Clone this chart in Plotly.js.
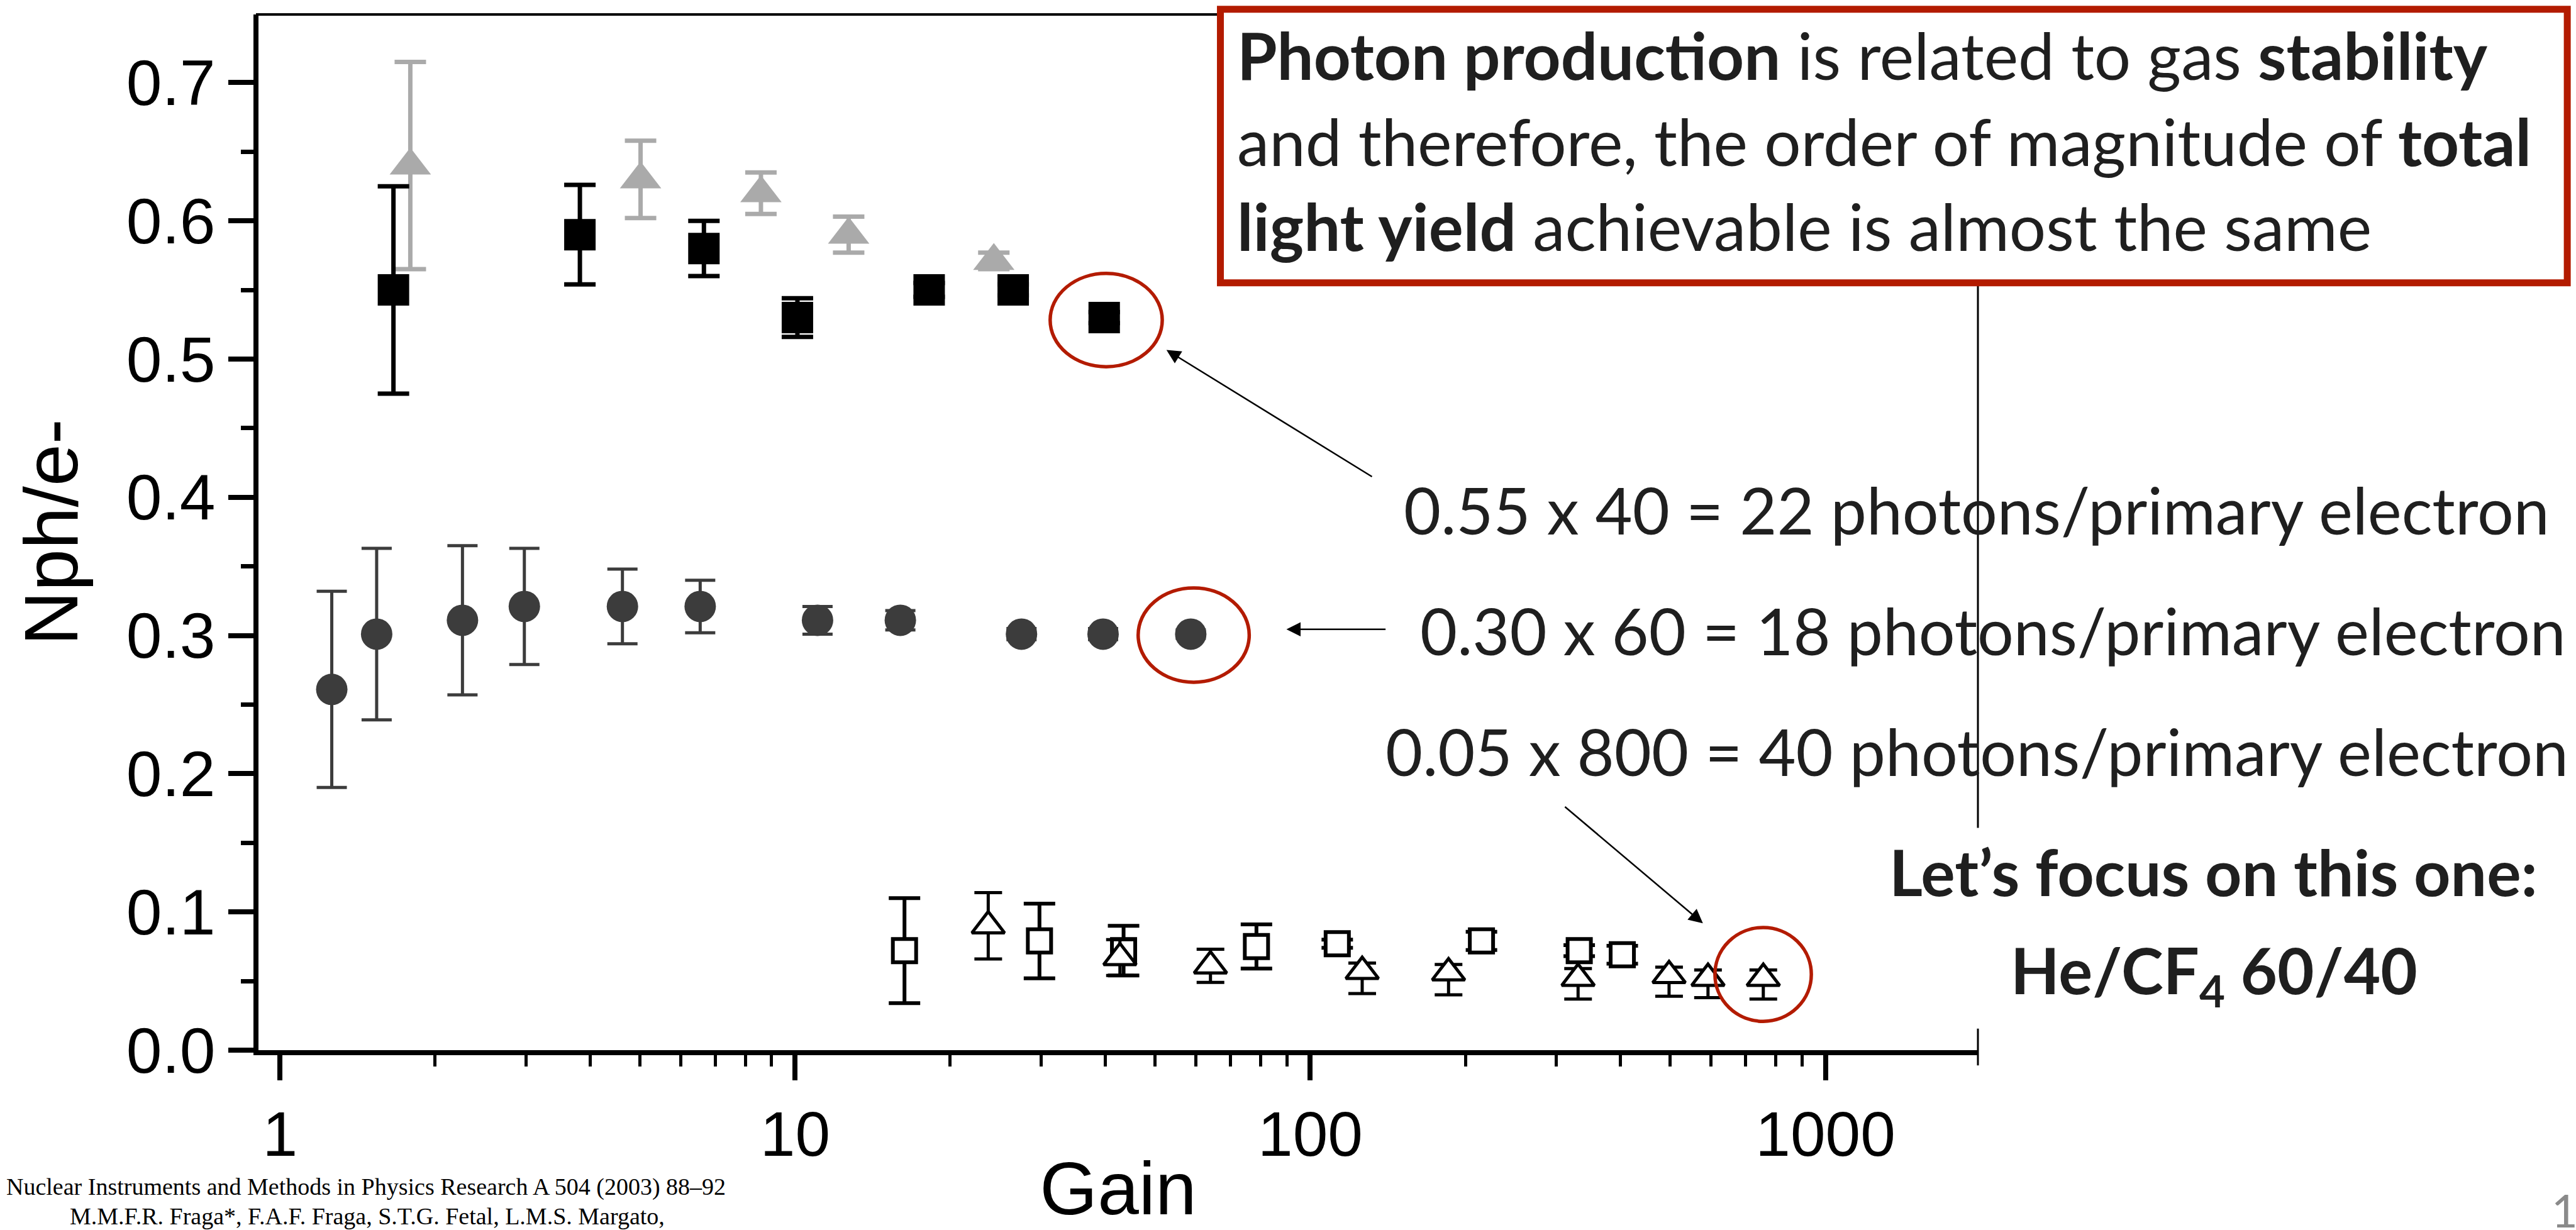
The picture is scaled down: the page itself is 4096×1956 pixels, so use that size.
<!DOCTYPE html>
<html>
<head>
<meta charset="utf-8">
<script src="https://cdn.plot.ly/plotly-3.0.1.min.js"></script>
<style>
html,body{margin:0;padding:0;background:#ffffff;}
#chart{width:4096px;height:1956px;}
</style>
</head>
<body>
<div id="chart"></div>
<script>
// ---------------- data ----------------
// filled black squares
const gainSqFilled = [1.66, 3.82, 6.65, 10.1, 18.2, 26.5, 39.8];
const nphSqFilled  = [0.550, 0.590, 0.580, 0.530, 0.550, 0.550, 0.530];
const errSqFilled  = [0.075, 0.036, 0.020, 0.014, 0.005, 0.004, 0.004];

// filled grey triangles
const gainTriGrey = [1.79, 5.01, 8.58, 12.7, 24.3];
const nphTriGrey  = [0.640, 0.630, 0.620, 0.590, 0.571];
const errTriGrey  = [0.075, 0.028, 0.015, 0.013, 0.006];

// filled dark circles
const gainCircle = [1.26, 1.54, 2.26, 2.98, 4.62, 6.54, 11.05, 16.0, 27.5, 39.6, 58.6];
const nphCircle  = [0.261, 0.301, 0.311, 0.321, 0.321, 0.321, 0.311, 0.311, 0.301, 0.301, 0.301];
const errCircle  = [0.071, 0.062, 0.054, 0.042, 0.027, 0.019, 0.010, 0.007, 0.004, 0.004, 0.003];

// open squares
const gainSqOpen = [16.3, 29.8, 43.4, 78.6, 112.8, 214.9, 332.7, 403.3];
const nphSqOpen  = [0.072, 0.079, 0.072, 0.075, 0.077, 0.079, 0.072, 0.069];
const errSqOpen  = [0.038, 0.027, 0.018, 0.016, 0.003, 0.0066, 0.004, 0.0065];

// open triangles
const gainTriOpen     = [23.7, 42.7, 64.0, 126.1, 185.5, 331, 497.1, 591.6, 757.5];
const nphTriOpen      = [0.090, 0.067, 0.061, 0.057, 0.056, 0.052, 0.054, 0.052, 0.052];
const errTriOpenPlus  = [0.024, 0.013, 0.012, 0.006, 0.006, 0.007, 0.006, 0.006, 0.006];
const errTriOpenMinus = [0.024, 0.013, 0.012, 0.016, 0.016, 0.015, 0.015, 0.014, 0.015];

// axis texts
const xTitle = 'Gain';
const yTitle = 'Nph/e-';

// ---------------- geometry helpers (reference px -> paper) ----------------
const FIG_W = 4096, FIG_H = 1956;
const S = FIG_W / 4916;
const PL = 410.6, PR = 3145.3, PT = 23.3, PB = 1669.7;
const px = xr => (xr * S - PL) / (PR - PL);
const py = yr => (PB - yr * S) / (PB - PT);
const pyo = yo => (PB - yo) / (PB - PT);

const TXT = '#1f1f1f';
const RED = '#b31b00';
const SANS = 'Lato, "Noto Sans", sans-serif';
const AX_FONT = '"Liberation Sans", Arial, sans-serif';
const SERIF = '"Liberation Serif", "Times New Roman", serif';

// ---------------- traces ----------------
const traces = [
  {
    type: 'scatter', mode: 'markers', name: 'grey triangles',
    x: gainTriGrey, y: nphTriGrey,
    error_y: {type: 'data', array: errTriGrey, visible: true, color: '#aaaaaa', thickness: 7, width: 25},
    marker: {symbol: 'triangle-up', size: 57, color: '#aaaaaa', line: {width: 0}},
    cliponaxis: false
  },
  {
    type: 'scatter', mode: 'markers', name: 'black squares',
    x: gainSqFilled, y: nphSqFilled,
    error_y: {type: 'data', array: errSqFilled, visible: true, color: '#000000', thickness: 7, width: 25},
    marker: {symbol: 'square', size: 50, color: '#000000', line: {width: 0}},
    cliponaxis: false
  },
  {
    type: 'scatter', mode: 'markers', name: 'circles',
    x: gainCircle, y: nphCircle,
    error_y: {type: 'data', array: errCircle, visible: true, color: '#3c3c3c', thickness: 5, width: 24},
    marker: {symbol: 'circle', size: 50, color: '#3c3c3c', line: {width: 0}},
    cliponaxis: false
  },
  {
    type: 'scatter', mode: 'markers', name: 'open squares',
    x: gainSqOpen, y: nphSqOpen,
    error_y: {type: 'data', array: errSqOpen, visible: true, color: '#000000', thickness: 6, width: 25},
    marker: {symbol: 'square', size: 37, color: '#ffffff', line: {width: 6, color: '#000000'}},
    cliponaxis: false
  },
  {
    type: 'scatter', mode: 'markers', name: 'open triangles',
    x: gainTriOpen, y: nphTriOpen,
    error_y: {type: 'data', symmetric: false, array: errTriOpenPlus, arrayminus: errTriOpenMinus,
              visible: true, color: '#000000', thickness: 5, width: 22},
    marker: {symbol: 'triangle-up', size: 45, color: '#ffffff', line: {width: 5, color: '#000000'}},
    cliponaxis: false
  }
];

// ---------------- shapes ----------------
const shapes = [
  // top frame line
  {type: 'line', xref: 'paper', yref: 'paper', x0: px(488), x1: 1, y0: 1, y1: 1,
   line: {color: '#000000', width: 4}, layer: 'above'},
  // right frame line
  {type: 'line', xref: 'paper', yref: 'paper', x0: 1, x1: 1, y0: 1, y1: py(2033),
   line: {color: '#000000', width: 3}, layer: 'above'},
  // white gap behind "Let's focus" text
  {type: 'rect', xref: 'paper', yref: 'paper', x0: px(3755), x1: px(3795), y0: py(1580), y1: py(1963),
   line: {width: 0}, fillcolor: '#ffffff', layer: 'above'},
  // red box
  {type: 'rect', xref: 'paper', yref: 'paper', x0: px(2329), x1: px(4900), y0: py(18), y1: py(540),
   line: {color: RED, width: 11}, fillcolor: '#ffffff', layer: 'above'},
  // red ellipses
  {type: 'circle', xref: 'paper', yref: 'paper', x0: px(2004), x1: px(2218), y0: py(522), y1: py(700),
   line: {color: RED, width: 5.5}, layer: 'above'},
  {type: 'circle', xref: 'paper', yref: 'paper', x0: px(2172), x1: px(2384), y0: py(1122), y1: py(1302),
   line: {color: RED, width: 5.5}, layer: 'above'},
  {type: 'circle', xref: 'paper', yref: 'paper', x0: px(3273), x1: px(3457), y0: py(1770), y1: py(1949),
   line: {color: RED, width: 5.5}, layer: 'above'}
];

// ---------------- annotations ----------------
// baseline (reference px) -> middle of text box (paper)
const mid = (baseR, fs, k) => pyo(baseR * S - (k === undefined ? 0.387 : k) * fs);

function textAnn(text, xr, baseR, fs, opts) {
  return Object.assign({
    text: text, xref: 'paper', yref: 'paper', x: px(xr), y: mid(baseR, fs),
    xanchor: 'left', yanchor: 'middle', showarrow: false,
    font: {family: SANS, size: fs, color: TXT}
  }, opts || {});
}

function arrowAnn(headR, tailR) {
  return {
    text: '', xref: 'paper', yref: 'paper',
    x: px(headR[0]), y: py(headR[1]),
    axref: 'pixel', ayref: 'pixel',
    ax: (tailR[0] - headR[0]) * S, ay: (tailR[1] - headR[1]) * S,
    showarrow: true, arrowhead: 2, arrowsize: 1.8, arrowwidth: 2.5, arrowcolor: '#000000',
    standoff: 0, startstandoff: 0
  };
}

const FS_BOX = 103;
const FS_EQ = 102;
const FS_FOC = 102;

const annotations = [
  textAnn('<b>Photon production</b> is related to gas <b>stability</b>', 2358, 153, FS_BOX),
  textAnn('and therefore, the order of magnitude of <b>total</b>', 2358, 317, FS_BOX),
  textAnn('<b>light yield</b> achievable is almost the same', 2358, 479, FS_BOX),

  textAnn('0.55 x 40 = 22 photons/primary electron', 2677, 1020, FS_EQ),
  textAnn('0.30 x 60 = 18 photons/primary electron', 2708, 1250, FS_EQ),
  textAnn('0.05 x 800 = 40 photons/primary electron', 2642, 1481, FS_EQ),

  textAnn('<b>Let\u2019s focus on this one:</b>', 4225, 1710, FS_FOC, {xanchor: 'center'}),
  textAnn('<b>He/CF<sub>4</sub> 60/40</b>', 4226, 1906, 101, {xanchor: 'center'}),

  // citation
  {text: 'Nuclear Instruments and Methods in Physics Research A 504 (2003) 88\u201392',
   xref: 'paper', yref: 'paper', x: px(698), y: mid(2280, 38, 0.3375), xanchor: 'center', yanchor: 'middle',
   showarrow: false, font: {family: SERIF, size: 38, color: '#000000'}},
  {text: 'M.M.F.R. Fraga*, F.A.F. Fraga, S.T.G. Fetal, L.M.S. Margato,',
   xref: 'paper', yref: 'paper', x: px(700), y: pyo(1934), xanchor: 'center', yanchor: 'middle',
   showarrow: false, font: {family: SERIF, size: 38, color: '#000000'}},

  // page number
  {text: '17', xref: 'paper', yref: 'paper', x: px(4868), y: mid(2342, 72), xanchor: 'left', yanchor: 'middle',
   showarrow: false, font: {family: SANS, size: 72, color: '#8a8a8a'}},

  arrowAnn([2226, 668], [2620, 911]),
  arrowAnn([2455, 1201], [2646, 1201]),
  arrowAnn([3250, 1762], [2985, 1538])
];

// ---------------- layout ----------------
const layout = {
  width: FIG_W, height: FIG_H, autosize: false,
  paper_bgcolor: '#ffffff', plot_bgcolor: '#ffffff',
  showlegend: false,
  margin: {l: PL, r: FIG_W - PR, t: PT, b: FIG_H - PB, pad: 0},
  xaxis: {
    type: 'log', range: [-0.0419, 3.296],
    dtick: 1, exponentformat: 'none',
    showgrid: false, zeroline: false,
    showline: true, linecolor: '#000000', linewidth: 8,
    ticks: 'outside', ticklen: 40, tickwidth: 8, tickcolor: '#000000',
    minor: {dtick: 'D1', ticks: 'outside', ticklen: 18, tickwidth: 5, tickcolor: '#000000', showgrid: false},
    tickfont: {family: AX_FONT, size: 100, color: '#000000'},
    title: {text: xTitle, font: {family: AX_FONT, size: 118, color: '#000000'}, standoff: 0},
    fixedrange: true
  },
  yaxis: {
    range: [0, 0.7493],
    dtick: 0.1, tick0: 0, tickformat: '.1f',
    showgrid: false, zeroline: false,
    showline: true, linecolor: '#000000', linewidth: 8,
    ticks: 'outside', ticklen: 40, tickwidth: 8, tickcolor: '#000000',
    minor: {dtick: 0.05, ticks: 'outside', ticklen: 20, tickwidth: 7, tickcolor: '#000000', showgrid: false},
    tickfont: {family: AX_FONT, size: 102, color: '#000000'},
    title: {text: yTitle, font: {family: AX_FONT, size: 120, color: '#000000'}, standoff: 40},
    fixedrange: true
  },
  shapes: shapes,
  annotations: annotations
};

Plotly.newPlot('chart', traces, layout, {displayModeBar: false, staticPlot: true});
</script>
</body>
</html>
